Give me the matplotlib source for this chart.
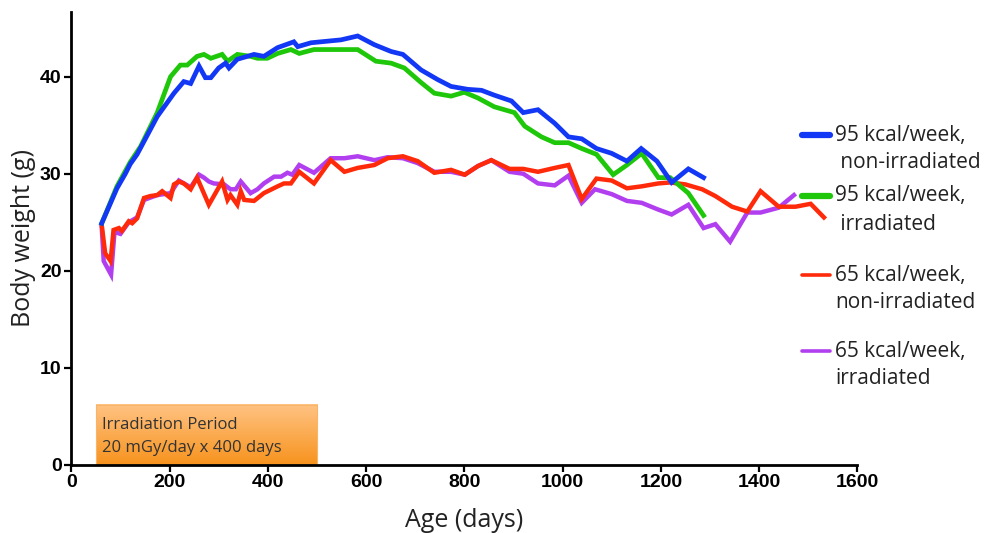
import matplotlib
matplotlib.use("Agg")
import matplotlib.pyplot as plt
import numpy as np
from matplotlib.colors import LinearSegmentedColormap
from matplotlib.lines import Line2D

# 95 kcal/week, non-irradiated
blue_days = [62, 93, 110, 120, 134, 175, 209, 229, 243, 260, 273, 284, 300, 314, 321, 338, 372, 392, 420, 453,
             461, 488, 549, 583, 617, 651, 675, 712, 746, 773, 807, 835, 861, 896, 920, 950, 984, 1012, 1039,
             1069, 1100, 1131, 1160, 1192, 1222, 1256, 1287]
blue_wt = [24.9, 28.5, 30.0, 31.0, 32.0, 35.9, 38.3, 39.5, 39.3, 41.1, 39.9, 39.9, 40.9, 41.4, 40.9, 41.8, 42.3,
           42.1, 43.0, 43.6, 43.1, 43.5, 43.8, 44.2, 43.3, 42.6, 42.3, 40.7, 39.7, 39.0, 38.7, 38.6, 38.1, 37.5,
           36.3, 36.6, 35.2, 33.8, 33.6, 32.6, 32.1, 31.3, 32.6, 31.3, 29.1, 30.5, 29.6]

# 95 kcal/week, irradiated
green_days = [62, 93, 120, 141, 175, 202, 222, 236, 256, 270, 284, 307, 318, 338, 365, 379, 399, 420, 447, 464,
              494, 583, 620, 651, 678, 712, 739, 773, 800, 828, 861, 902, 923, 957, 984, 1012, 1039, 1069, 1103,
              1131, 1161, 1195, 1219, 1256, 1287]
green_wt = [24.9, 28.7, 31.2, 32.8, 36.3, 40.0, 41.2, 41.2, 42.1, 42.3, 41.9, 42.3, 41.6, 42.3, 42.1, 41.9, 41.9,
            42.4, 42.8, 42.4, 42.8, 42.8, 41.6, 41.4, 40.9, 39.4, 38.3, 38.0, 38.4, 37.8, 36.9, 36.3, 34.9, 33.8,
            33.2, 33.2, 32.6, 32.0, 29.9, 30.9, 32.1, 29.6, 29.6, 28.0, 25.7]

# 65 kcal/week, non-irradiated
red_days = [62, 69, 80, 86, 97, 103, 117, 124, 134, 148, 161, 175, 185, 202, 209, 219, 229, 243, 256, 280, 307,
            318, 324, 338, 345, 352, 372, 392, 420, 433, 447, 464, 494, 528, 556, 583, 617, 644, 675, 705, 739,
            773, 801, 828, 855, 892, 920, 950, 984, 1012, 1039, 1069, 1100, 1131, 1161, 1195, 1219, 1250, 1284,
            1311, 1345, 1376, 1403, 1440, 1474, 1505, 1532]
red_wt = [24.7, 21.8, 21.0, 24.2, 24.4, 24.1, 25.1, 24.9, 25.4, 27.5, 27.7, 27.8, 28.2, 27.5, 28.9, 29.2, 29.0,
          28.4, 29.6, 26.8, 29.2, 27.3, 27.8, 26.8, 28.2, 27.3, 27.2, 28.0, 28.7, 29.0, 29.0, 30.2, 29.0, 31.4,
          30.2, 30.6, 30.9, 31.6, 31.8, 31.3, 30.1, 30.4, 29.9, 30.8, 31.4, 30.5, 30.5, 30.2, 30.6, 30.9, 27.4,
          29.5, 29.3, 28.5, 28.7, 29.0, 29.1, 28.9, 28.4, 27.7, 26.6, 26.1, 28.2, 26.6, 26.6, 26.9, 25.5]

# 65 kcal/week, irradiated
purple_days = [62, 66, 81, 88, 100, 117, 134, 148, 175, 202, 219, 243, 260, 270, 280, 290, 311, 324, 335, 345,
               365, 379, 392, 413, 427, 440, 450, 464, 494, 528, 556, 583, 617, 644, 675, 705, 739, 773, 801, 828,
               855, 892, 920, 950, 984, 1012, 1039, 1066, 1100, 1131, 1161, 1195, 1222, 1256, 1287, 1311, 1341,
               1376, 1403, 1440, 1471]
purple_wt = [24.5, 21.0, 19.6, 24.0, 23.8, 25.0, 25.5, 27.3, 27.8, 28.0, 29.3, 28.6, 29.9, 29.6, 29.2, 29.0, 28.9,
             28.4, 28.4, 29.2, 28.0, 28.4, 29.0, 29.7, 29.7, 30.1, 29.9, 30.9, 30.1, 31.6, 31.6, 31.8, 31.4, 31.7,
             31.6, 31.1, 30.2, 30.2, 29.9, 30.8, 31.4, 30.2, 30.0, 29.0, 28.8, 29.8, 27.0, 28.4, 27.9, 27.2, 27.0,
             26.3, 25.8, 26.8, 24.4, 24.8, 23.0, 26.0, 26.0, 26.5, 27.8]

labels = [("95 kcal/week,", " non-irradiated"), ("95 kcal/week,", " irradiated"),
          ("65 kcal/week,", "non-irradiated"), ("65 kcal/week,", "irradiated")]
colors = ["#1238F5", "#1FC70A", "#FF2A0A", "#B23FEF"]

irr_start, irr_end = 50, 500

fig = plt.figure(figsize=(9.9, 5.33), dpi=100)
ax = fig.add_axes([0.072, 0.128, 0.794, 0.85])

# irradiation period box, orange gradient (light top, darker bottom)
cmap = LinearSegmentedColormap.from_list("orng", ["#F7931E", "#FFC383"])
grad = np.linspace(0, 1, 100).reshape(-1, 1)
ax.imshow(grad, extent=[irr_start, irr_end, 0, 6.2], origin="lower", cmap=cmap, aspect="auto", zorder=1)
ax.add_patch(plt.Rectangle((irr_start, 0), irr_end - irr_start, 6.2, fill=False, ec="#F9B46A", lw=0.8, zorder=1))
ax.text(irr_start + 12, 4.15, "Irradiation Period", fontsize=12, family="Open Sans", color="#333333",
        va="center", zorder=2)
ax.text(irr_start + 12, 1.75, "20 mGy/day x 400 days", fontsize=12, family="Open Sans", color="#333333",
        va="center", zorder=2)

ax.plot(purple_days, purple_wt, color=colors[3], lw=3.2, zorder=3, solid_joinstyle="miter")
ax.plot(red_days, red_wt, color=colors[2], lw=3.2, zorder=4, solid_joinstyle="miter")
ax.plot(green_days, green_wt, color=colors[1], lw=3.4, zorder=5, solid_joinstyle="miter")
ax.plot(blue_days, blue_wt, color=colors[0], lw=3.4, zorder=6, solid_joinstyle="miter")

ax.set_xlim(0, 1600)
ax.set_ylim(0, 46.7)
ax.set_xticks(range(0, 1601, 200))
ax.set_yticks(range(0, 41, 10))
for s in ["top", "right"]:
    ax.spines[s].set_visible(False)
for s in ["left", "bottom"]:
    ax.spines[s].set_linewidth(2)
ax.tick_params(width=1.6, length=5, direction="out", pad=2)
for lab in ax.get_xticklabels() + ax.get_yticklabels():
    lab.set_family("Liberation Sans")
    lab.set_fontweight("bold")
    lab.set_fontsize(14)

ax.set_xlabel("Age (days)", fontsize=18, family="Open Sans", color="#222222", labelpad=12)
ax.set_ylabel("Body weight (g)", fontsize=18, family="Open Sans", color="#222222", labelpad=3)

# legend drawn by hand so the handle sits on the first text line
W, H = 990, 533
leg_y = [135, 196, 275, 351]
leg_lw = [4.5, 4.5, 2.6, 2.6]
for (l1, l2), c, y, lw in zip(labels, colors, leg_y, leg_lw):
    fig.add_artist(Line2D([802 / W, 830 / W], [1 - y / H, 1 - y / H], color=c, lw=lw,
                          solid_capstyle="round", transform=fig.transFigure))
    fig.text(835 / W, 1 - y / H, l1, fontsize=15, family="Open Sans", color="#222222", va="center")
    fig.text(835 / W, 1 - (y + 28) / H, l2, fontsize=15, family="Open Sans", color="#222222", va="center")

fig.savefig("out.png", dpi=100)
